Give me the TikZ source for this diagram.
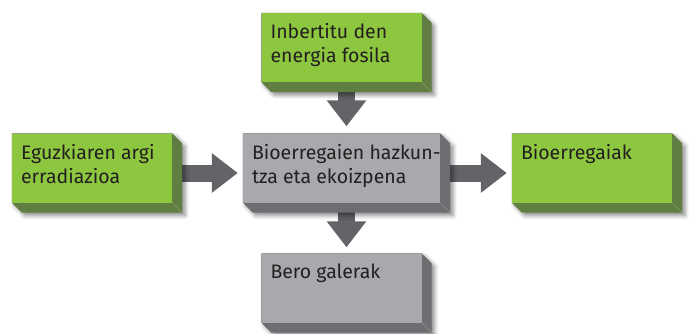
\documentclass[tikz,border=0pt]{standalone}
\usepackage{fontspec}
\setmainfont{Fira Sans}
\usetikzlibrary{arrows.meta,shadows.blur,backgrounds,positioning,calc}
\definecolor{leaf}{RGB}{141,198,63}
\definecolor{leafside}{RGB}{96,125,66}
\definecolor{stone}{RGB}{167,169,172}
\definecolor{stoneside}{RGB}{109,110,113}
\definecolor{flow}{RGB}{99,100,104}
\definecolor{ink}{RGB}{35,31,32}

% side and bottom faces of a block, with its shadow
\newcommand{\blockdepth}[2]{%
	\fill[#2, blur shadow={shadow xshift=3pt, shadow yshift=-3pt, shadow blur radius=4pt, shadow opacity=45}]
		(#1.north west) -- (#1.north east) -- ($(#1.north east)+(10,-10)$) -- ($(#1.south east)+(10,-10)$)
		-- ($(#1.south west)+(10,-10)$) -- (#1.south west) -- cycle;
	\draw[#2!75!white, line width=0.4pt] (#1.south east) -- ($(#1.south east)+(10,-10)$);
}

\tikzset{
	block/.style={rectangle, draw=none, inner sep=0pt, minimum width=160pt, minimum height=69pt},
	caption/.style={anchor=north west, align=left, inner xsep=9pt, inner ysep=10.5pt, text=ink, font=\fontsize{19.5pt}{24pt}\selectfont},
	flowarrow/.style={flow, line width=17pt, -{Triangle[width=38pt,length=26pt]}}
}

\begin{document}
\begin{tikzpicture}[x=1pt, y=1pt, on grid]
	\useasboundingbox (0,0) rectangle (697,-333);
	\node[block, fill=stone, minimum width=197pt, label={[caption]north west:Bioerregaien hazkun-\\tza eta ekoizpena}] (C) at (341.5,-168) {};
	\node[block, fill=leaf, label={[caption]north west:Inbertitu den\\energia fosila}] (T) [above = 120.5pt of C] {};
	\node[block, fill=leaf, label={[caption]north west:Eguzkiaren argi\\erradiazioa}] (L) [left = 249.5pt of C] {};
	\node[block, fill=leaf, label={[caption]north west:Bioerregaiak}] (R) [right = 250.5pt of C] {};
	\node[block, fill=stone, label={[caption]north west:Bero galerak}] (B) [below = 120pt of C] {};

	\begin{scope}[on background layer]
		\draw[flowarrow, shorten >=7pt] ([xshift=5pt]T.center) -- ([xshift=5pt]C.north);
		\draw[flowarrow, shorten >=5pt] ([yshift=-5pt]L.center) -- ([yshift=-5pt]C.west);
		\draw[flowarrow, shorten >=5pt] ([yshift=-5pt]C.center) -- ([yshift=-5pt]R.west);
		\draw[flowarrow, shorten >=6pt] ([xshift=5pt]C.center) -- ([xshift=5pt]B.north);

		\blockdepth{T}{leafside}
		\blockdepth{L}{leafside}
		\blockdepth{R}{leafside}
		\blockdepth{C}{stoneside}
		\blockdepth{B}{stoneside}
	\end{scope}
\end{tikzpicture}
\end{document}
